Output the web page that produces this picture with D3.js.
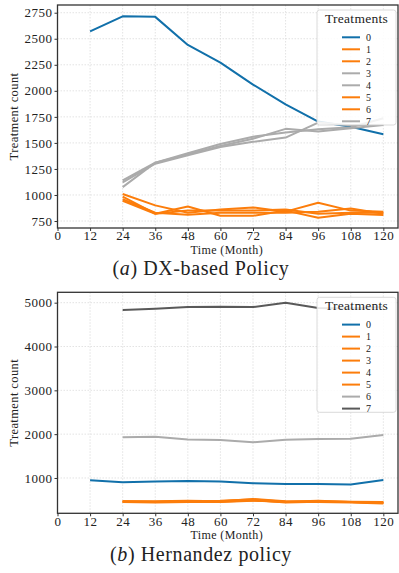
<!DOCTYPE html>
<html>
<head>
<meta charset="utf-8">
<script src="https://cdn.jsdelivr.net/npm/d3@7"></script>
<style>
  body { margin: 0; background: #fff; }
  svg { display: block; }
  text { font-family: "Liberation Serif", serif; fill: #222; }
</style>
</head>
<body>
<svg id="chart" width="399" height="573"></svg>
<script>
// months on the x axis
const months = [12, 24, 36, 48, 60, 72, 84, 96, 108, 120];
const xTicks = [0, 12, 24, 36, 48, 60, 72, 84, 96, 108, 120];

// (a) DX-based policy, one array per treatment
const dx0 = [2570, 2715, 2710, 2440, 2270, 2060, 1870, 1705, 1655, 1583];
const dx1 = [null, 1010, 900, 830, 860, 880, 840, 926, 850, 840];
const dx2 = [null, 985, 820, 890, 800, 800, 850, 782, 820, 808];
const dx3 = [null, 1140, 1310, 1390, 1470, 1540, 1635, 1610, 1640, 1673];
const dx4 = [null, 1120, 1300, 1380, 1460, 1510, 1551, 1695, 1670, 1675];
const dx5 = [null, 960, 830, 810, 830, 830, 830, 840, 870, 820];
const dx6 = [null, 945, 820, 850, 850, 850, 860, 820, 830, 830];
const dx7 = [null, 1075, 1310, 1400, 1490, 1560, 1600, 1632, 1650, 1737];
const dxTicksY = [750, 1000, 1250, 1500, 1750, 2000, 2250, 2500, 2750];

// (b) Hernandez policy
const he0 = [950, 900, 920, 930, 920, 880, 863, 860, 850, 954];
const he1 = [null, 470, 460, 470, 460, 490, 450, 470, 450, 440];
const he2 = [null, 460, 450, 460, 470, 520, 470, 460, 450, 430];
const he3 = [null, 450, 440, 450, 450, 480, 460, 450, 440, 420];
const he4 = [null, 470, 470, 480, 470, 500, 440, 460, 460, 450];
const he5 = [null, 460, 450, 470, 480, 510, 460, 480, 450, 440];
const he6 = [null, 1930, 1940, 1880, 1867, 1815, 1870, 1890, 1897, 1981];
const he7 = [null, 4833, 4860, 4900, 4910, 4900, 5000, 4880, 4870, 4900];
const heTicksY = [1000, 2000, 3000, 4000, 5000];

const labels = ["0", "1", "2", "3", "4", "5", "6", "7"];
const BLUE = "#1170aa", ORANGE = "#fc7d0b", GRAY = "#ababab", DARK = "#595959";
const SERIF = "'Liberation Serif', serif";

const svg = d3.select("#chart");

function panel(cfg) {
  const { top, bottom, left, right, yDomain, yTicks, series, colors, caption, captionY } = cfg;
  const g = svg.append("g");

  const x = d3.scaleLinear().domain([0, 125.4]).range([left, right]);
  const y = d3.scaleLinear().domain(yDomain).range([bottom, top]);

  // grid
  g.append("g").selectAll("line").data(xTicks).enter().append("line")
    .attr("x1", d => x(d)).attr("x2", d => x(d))
    .attr("y1", top).attr("y2", bottom)
    .attr("stroke", "#dcdcdc").attr("stroke-width", 0.8).attr("stroke-dasharray", "1.5,1.5");
  g.append("g").selectAll("line").data(yTicks).enter().append("line")
    .attr("x1", left).attr("x2", right)
    .attr("y1", d => y(d)).attr("y2", d => y(d))
    .attr("stroke", "#dcdcdc").attr("stroke-width", 0.8).attr("stroke-dasharray", "1.5,1.5");

  // lines
  const line = d3.line()
    .defined(d => d[1] != null)
    .x(d => x(d[0])).y(d => y(d[1]));
  const clipId = "clip" + Math.round(top);
  g.append("clipPath").attr("id", clipId).append("rect")
    .attr("x", left).attr("y", top).attr("width", right - left).attr("height", bottom - top);
  const lg = g.append("g").attr("clip-path", `url(#${clipId})`);
  series.forEach((s, i) => {
    lg.append("path")
      .datum(months.map((m, j) => [m, s[j]]))
      .attr("fill", "none")
      .attr("stroke", colors[i])
      .attr("stroke-width", 2)
      .attr("stroke-linejoin", "round")
      .attr("d", line);
  });

  // axes
  const xAxis = g.append("g").attr("transform", `translate(0,${bottom})`)
    .call(d3.axisBottom(x).tickValues(xTicks).tickFormat(d3.format("d")).tickSize(3).tickPadding(0));
  const yAxis = g.append("g").attr("transform", `translate(${left},0)`)
    .call(d3.axisLeft(y).tickValues(yTicks).tickFormat(d3.format("d")).tickSize(3).tickPadding(2));
  [xAxis, yAxis].forEach(a => {
    a.attr("font-family", null).attr("font-size", null);
    a.select(".domain").remove();
    a.selectAll("line").attr("stroke", "#333");
    a.selectAll("text").style("font-family", SERIF).style("font-size", "13px")
      .style("letter-spacing", "0.5px").attr("fill", "#222");
  });

  // frame
  g.append("rect")
    .attr("x", left).attr("y", top).attr("width", right - left).attr("height", bottom - top)
    .attr("fill", "none").attr("stroke", "#333").attr("stroke-width", 1.3);

  // axis titles
  g.append("text")
    .attr("x", (left + right) / 2 - 1).attr("y", bottom + 26)
    .attr("text-anchor", "middle").style("font-size", "12px").style("letter-spacing", "0.4px")
    .text("Time (Month)");
  g.append("text")
    .attr("transform", `translate(18,${(top + bottom) / 2}) rotate(-90)`)
    .attr("text-anchor", "middle").style("font-size", "12.5px").style("letter-spacing", "0.4px")
    .text("Treatment count");

  // legend
  const lx = 317, ly = top + 5, lw = 79, lh = 115;
  const leg = g.append("g");
  leg.append("rect").attr("x", lx).attr("y", ly).attr("width", lw).attr("height", lh)
    .attr("rx", 2.5).attr("fill", "#fff").attr("fill-opacity", 0.85)
    .attr("stroke", "#d0d0d0").attr("stroke-width", 0.8);
  leg.append("text").attr("x", lx + lw / 2).attr("y", ly + 13)
    .attr("text-anchor", "middle").style("font-size", "13.5px").style("letter-spacing", "0.3px")
    .text("Treatments");
  labels.forEach((lab, i) => {
    const yy = ly + 27.3 + i * 12;
    leg.append("line").attr("x1", lx + 25).attr("x2", lx + 43).attr("y1", yy).attr("y2", yy)
      .attr("stroke", colors[i]).attr("stroke-width", 2);
    leg.append("text").attr("x", lx + 49).attr("y", yy + 3.2)
      .style("font-size", "10px").text(lab);
  });

  // caption
  const cap = g.append("text")
    .attr("x", 201).attr("y", captionY)
    .attr("text-anchor", "middle")
    .style("font-size", "20px").style("letter-spacing", "0.6px");
  cap.append("tspan").text("(");
  cap.append("tspan").style("font-style", "italic").text(caption[0]);
  cap.append("tspan").text(") " + caption[1]);
}

panel({
  top: 5, bottom: 228, left: 57.5, right: 398,
  yDomain: [683, 2824], yTicks: dxTicksY,
  series: [dx0, dx1, dx2, dx3, dx4, dx5, dx6, dx7],
  colors: [BLUE, ORANGE, ORANGE, GRAY, GRAY, ORANGE, ORANGE, GRAY],
  caption: ["a", "DX-based Policy"], captionY: 275
});

panel({
  top: 292.3, bottom: 513.3, left: 57.5, right: 398,
  yDomain: [194, 5237], yTicks: heTicksY,
  series: [he0, he1, he2, he3, he4, he5, he6, he7],
  colors: [BLUE, ORANGE, ORANGE, ORANGE, ORANGE, ORANGE, GRAY, DARK],
  caption: ["b", "Hernandez policy"], captionY: 561
});
</script>
</body>
</html>
